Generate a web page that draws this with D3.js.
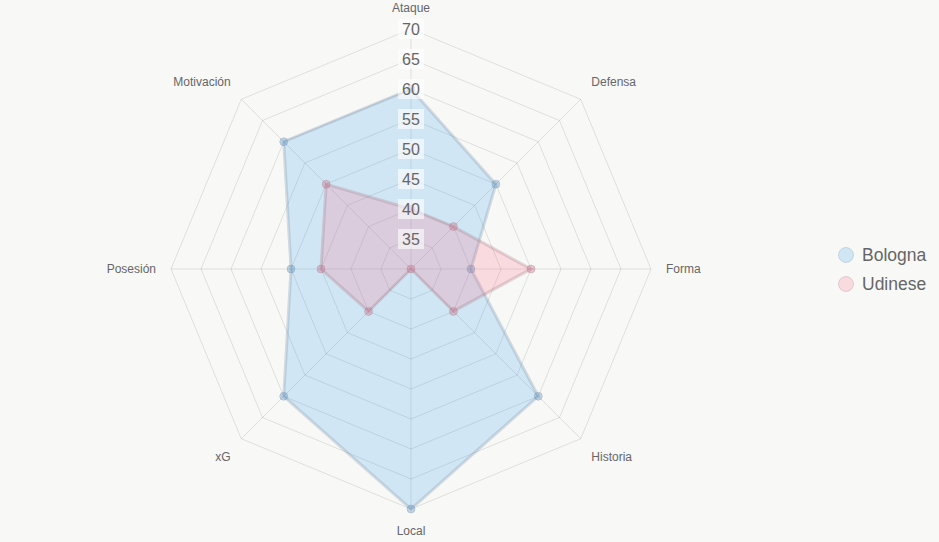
<!DOCTYPE html>
<html>
<head>
<meta charset="utf-8">
<script src="https://cdn.jsdelivr.net/npm/d3@7"></script>
<style>
    body { margin: 0; background: #f8f8f7; }
    svg { display: block; font-family: Arial, "Liberation Sans", Helvetica, sans-serif; }
</style>
</head>
<body>
<div id="radar"></div>
<script>
// chart data
let axes = ["Ataque", "Defensa", "Forma", "Historia", "Local", "xG", "Posesión", "Motivación"];
let teams = ["Bologna", "Udinese"];
let bolognaValues = [60, 50, 40, 60, 70, 60, 50, 60];
let udineseValues = [40, 40, 50, 40, 30, 40, 45, 50];
let ticks = [35, 40, 45, 50, 55, 60, 65, 70];

let fills = ["rgba(54,162,235,0.2)", "rgba(255,99,132,0.2)"];
let borders = ["rgba(120,140,160,0.28)", "rgba(160,120,130,0.28)"];
let pointFills = ["rgba(80,140,190,0.35)", "rgba(200,100,130,0.35)"];

drawRadar();

function drawRadar() {
    let width = 939, height = 542;
    let cx = 411, cy = 269, radius = 240;

    let svg = d3.select("#radar").append("svg")
        .attr("width", width)
        .attr("height", height);

    let rScale = d3.scaleLinear()
        .domain([30, 70])
        .range([0, radius]);

    let angle = i => i * 2 * Math.PI / axes.length;
    let px = (i, v) => cx + rScale(v) * Math.sin(angle(i));
    let py = (i, v) => cy - rScale(v) * Math.cos(angle(i));

    let g = svg.append("g");

    // grid octagons
    g.selectAll(".ring")
        .data(ticks)
        .enter()
        .append("polygon")
        .attr("class", "ring")
        .attr("points", t => axes.map((a, i) => px(i, t) + "," + py(i, t)).join(" "))
        .attr("fill", "none")
        .attr("stroke", "rgba(0,0,0,0.1)")
        .attr("stroke-width", 1);

    // angle lines
    g.selectAll(".spoke")
        .data(axes)
        .enter()
        .append("line")
        .attr("x1", cx).attr("y1", cy)
        .attr("x2", (d, i) => px(i, 70))
        .attr("y2", (d, i) => py(i, 70))
        .attr("stroke", "rgba(0,0,0,0.1)")
        .attr("stroke-width", 1);

    // datasets
    let series = [bolognaValues, udineseValues];
    series.forEach(function (vals, k) {
        g.append("polygon")
            .attr("points", vals.map((v, i) => px(i, v) + "," + py(i, v)).join(" "))
            .attr("fill", fills[k])
            .attr("stroke", borders[k])
            .attr("stroke-width", 3)
            .attr("stroke-linejoin", "miter");

        g.selectAll(".pt" + k)
            .data(vals)
            .enter()
            .append("circle")
            .attr("cx", (v, i) => px(i, v))
            .attr("cy", (v, i) => py(i, v))
            .attr("r", 4)
            .attr("fill", pointFills[k])
            .attr("stroke", borders[k])
            .attr("stroke-width", 1);
    });

    // tick labels with backdrop
    let tickG = g.selectAll(".tick")
        .data(ticks)
        .enter()
        .append("g")
        .attr("transform", t => "translate(" + cx + "," + (cy - rScale(t)) + ")");

    tickG.append("rect")
        .attr("x", -13).attr("y", -10)
        .attr("width", 26).attr("height", 20)
        .attr("fill", "rgba(255,255,255,0.6)");

    tickG.append("text")
        .attr("text-anchor", "middle")
        .attr("dy", "0.36em")
        .attr("fill", "#666")
        .style("font-size", "16px")
        .text(t => t);

    // point labels
    let labelR = radius + 15;
    g.selectAll(".plabel")
        .data(axes)
        .enter()
        .append("text")
        .attr("x", (d, i) => cx + labelR * Math.sin(angle(i)))
        .attr("y", (d, i) => cy - labelR * Math.cos(angle(i)))
        .attr("text-anchor", function (d, i) {
            let s = Math.sin(angle(i));
            if (Math.abs(s) < 0.01) return "middle";
            return s > 0 ? "start" : "end";
        })
        .attr("dy", function (d, i) {
            let c = Math.cos(angle(i));
            if (Math.abs(c) < 0.01) return "0.35em";
            return c > 0 ? "-0.2em" : "0.95em";
        })
        .attr("fill", "#666")
        .style("font-size", "12px")
        .text(d => d);

    // legend
    let legend = svg.append("g")
        .attr("transform", "translate(846,255)");

    let items = legend.selectAll(".item")
        .data(teams)
        .enter()
        .append("g")
        .attr("transform", (d, i) => "translate(0," + (i * 29) + ")");

    items.append("circle")
        .attr("r", 7.5)
        .attr("fill", (d, i) => fills[i])
        .attr("stroke", (d, i) => borders[i])
        .attr("stroke-width", 1);

    items.append("text")
        .attr("x", 16)
        .attr("dy", "0.35em")
        .attr("fill", "#666")
        .style("font-size", "17.5px")
        .text(d => d);
}
</script>
</body>
</html>
